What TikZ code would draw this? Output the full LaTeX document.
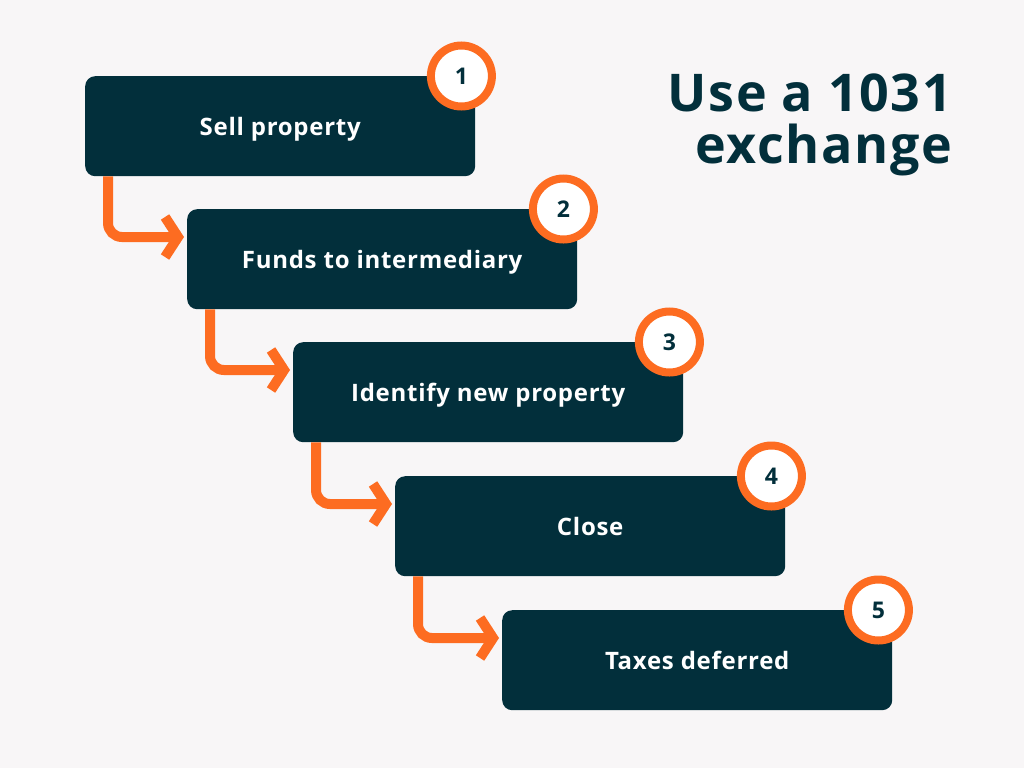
\documentclass[tikz,border=0pt]{standalone}
\usepackage{fontspec}
\setmainfont{Open Sans}[LetterSpace=3]
\definecolor{deepteal}{RGB}{2,47,59}
\definecolor{flame}{RGB}{253,108,33}
\definecolor{paper}{RGB}{248,246,247}
\usetikzlibrary{arrows.meta,positioning,calc}
\tikzset{
  stage/.style={fill=deepteal, rounded corners=10pt, minimum width=390pt,
                minimum height=100pt, inner sep=0pt, text=white, text depth=0pt,
                font=\fontsize{24}{26}\selectfont\bfseries, anchor=north west},
  badge/.style={circle, draw=flame, line width=8pt, fill=white, minimum size=61pt,
                inner sep=0pt, text=deepteal, font=\fontsize{23}{26}\selectfont\bfseries},
  flow/.style={-{Straight Barb[length=13pt, width=40pt]}, flame, line width=10pt,
               rounded corners=14pt},
}
\begin{document}
\begin{tikzpicture}[x=1pt, y=-1pt]
    \fill[paper] (0,0) rectangle (1024,768);
    \useasboundingbox (0,0) rectangle (1024,768);
    % steps
    \node[stage] (s1) at (85,76)  {Sell property};
    \node[stage] (s2) at (187,209) {Funds to intermediary};
    \node[stage] (s3) at (293,342) {Identify new property};
    \node[stage] (s4) at (395,476) {Close};
    \node[stage] (s5) at (502,610) {Taxes deferred};
    % connectors
    \foreach \a/\b in {s1/s2, s2/s3, s3/s4, s4/s5}
      \draw[flow] ([xshift=23pt]\a.south west) |- ([xshift=-3pt, yshift=-28pt]\b.north west);
    % numbers
    \foreach \i in {1,...,5}
      \node[badge] (n\i) at ([xshift=-14pt]s\i.north east) {\i};
    % title
    \node[anchor=north east, align=right, text=deepteal, inner sep=0pt,
          font=\fontsize{52}{52}\selectfont\bfseries] (title) at (952,74)
          {Use a 1031\\exchange};
\end{tikzpicture}
\end{document}
